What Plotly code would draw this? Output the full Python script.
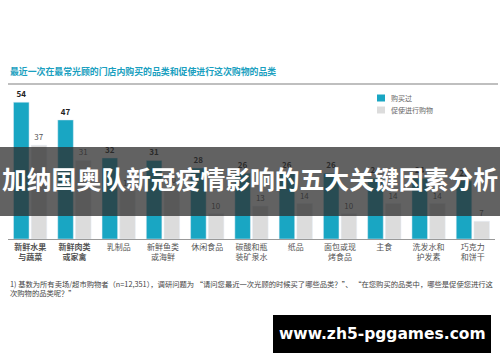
import plotly.graph_objects as go

categories = ["新鲜水果<br>与蔬菜", "新鲜肉类<br>或家禽", "乳制品", "新鲜鱼类<br>或海鲜", "休闲食品",
              "碳酸和瓶<br>装矿泉水", "纸品", "面包或现<br>烤食品", "主食", "洗发水和<br>护发素", "巧克力<br>和饼干"]
purchased = [54, 47, 32, 31, 28, 26, 26, 26, 24, 24, 23]
promoted = [37, 31, 19, 20, 10, 13, 14, 10, 14, 14, 7]
series_names = ["购买过", "促使进行购物"]
title_text = "最近一次在最常光顾的门店内购买的品类和促使进行这次购物的品类"
footnote = ("1) 基数为所有卖场/超市购物者（n=12,351），调研问题为 “请问您最近一次光顾的时候买了哪些品类？”、 “在您购买的品类中，哪些是促使您进行这"
            "<br>次购物的品类呢？”")
banner_text = "加纳国奥队新冠疫情影响的五大关键因素分析"
watermark = "www.zh5-pggames.com"

FONT = "Noto Sans CJK SC"
W, H = 500, 362
TEAL = "#19a6c3"
GREY = "#dcdcdc"

def px(x):
    return x / W

def py(y):
    return 1 - y / H

ticktext = [("<b>%s</b>" % c) if i < 2 else c for i, c in enumerate(categories)]
tickvals = list(range(len(categories)))

fig = go.Figure()
fig.add_trace(go.Bar(
    x=tickvals, y=purchased, name=series_names[0], marker_color=TEAL,
    text=["<b>%d</b>" % v for v in purchased], textposition="outside",
    textfont=dict(size=8, color="#222", family=FONT), cliponaxis=False,
))
fig.add_trace(go.Bar(
    x=tickvals, y=promoted, name=series_names[1], marker_color=GREY,
    text=[str(v) for v in promoted], textposition="outside",
    textfont=dict(size=8, color="#555", family=FONT), cliponaxis=False,
))

fig.update_layout(
    width=W, height=H, margin=dict(l=0, r=0, t=0, b=0),
    paper_bgcolor="white", plot_bgcolor="white",
    barmode="group", bargap=0.2, bargroupgap=0.12,
    font=dict(family=FONT, size=8, color="#666"),
    showlegend=False,
    xaxis=dict(domain=[px(8), px(495)], tickvals=tickvals, ticktext=ticktext,
               range=[-0.5, len(categories) - 0.5], showline=True, linecolor="#999",
               linewidth=1, ticks="", tickfont=dict(size=8, color="#555"), showgrid=False),
    yaxis=dict(domain=[py(239), py(87)], range=[0, 60], visible=False, showgrid=False),
)

# Legend (manual)
for i, (name, col) in enumerate(zip(series_names, [TEAL, GREY])):
    yc = 98 + 12 * i
    fig.add_shape(type="rect", xref="paper", yref="paper", x0=px(377), x1=px(385),
                  y0=py(yc + 3.5), y1=py(yc - 3.5), fillcolor=col, line=dict(width=0))
    fig.add_annotation(xref="paper", yref="paper", x=px(389), y=py(yc), xanchor="left", yanchor="middle",
                       text=name, showarrow=False, font=dict(size=7, color="#666", family=FONT))

# Title and rule
fig.add_annotation(xref="paper", yref="paper", x=px(8), y=py(72), xanchor="left", yanchor="middle",
                   text="<b>%s</b>" % title_text, showarrow=False,
                   font=dict(size=8.9, color="#1a9fc0", family=FONT))
fig.add_shape(type="line", xref="paper", yref="paper", x0=px(8), x1=px(498), y0=py(84), y1=py(84),
              line=dict(color="#aaaaaa", width=1.5))

# Footnote
fig.add_annotation(xref="paper", yref="paper", x=px(8), y=py(277), xanchor="left", yanchor="top",
                   text=footnote, showarrow=False, align="left",
                   font=dict(size=7.3, color="#444", family=FONT))

# Banner overlay
fig.add_shape(type="rect", xref="paper", yref="paper", x0=0, x1=1, y0=py(216), y1=py(147),
              fillcolor="rgba(45,45,45,0.75)", line=dict(width=0), layer="above")
fig.add_annotation(xref="paper", yref="paper", x=0.5, y=py(178), xanchor="center", yanchor="middle",
                   text="<b>%s</b>" % banner_text, showarrow=False,
                   font=dict(size=24.8, color="white", family=FONT))

# Watermark
fig.add_shape(type="rect", xref="paper", yref="paper", x0=px(273), x1=px(491), y0=py(353), y1=py(315),
              fillcolor="black", line=dict(width=0), layer="above")
fig.add_annotation(xref="paper", yref="paper", x=px(382), y=py(334), xanchor="center", yanchor="middle",
                   text="<b>%s</b>" % watermark, showarrow=False,
                   font=dict(size=15.5, color="white", family="DejaVu Sans"))

fig.write_html("out.html", config={"displayModeBar": False},
               post_script="document.body.style.margin='0px';")
